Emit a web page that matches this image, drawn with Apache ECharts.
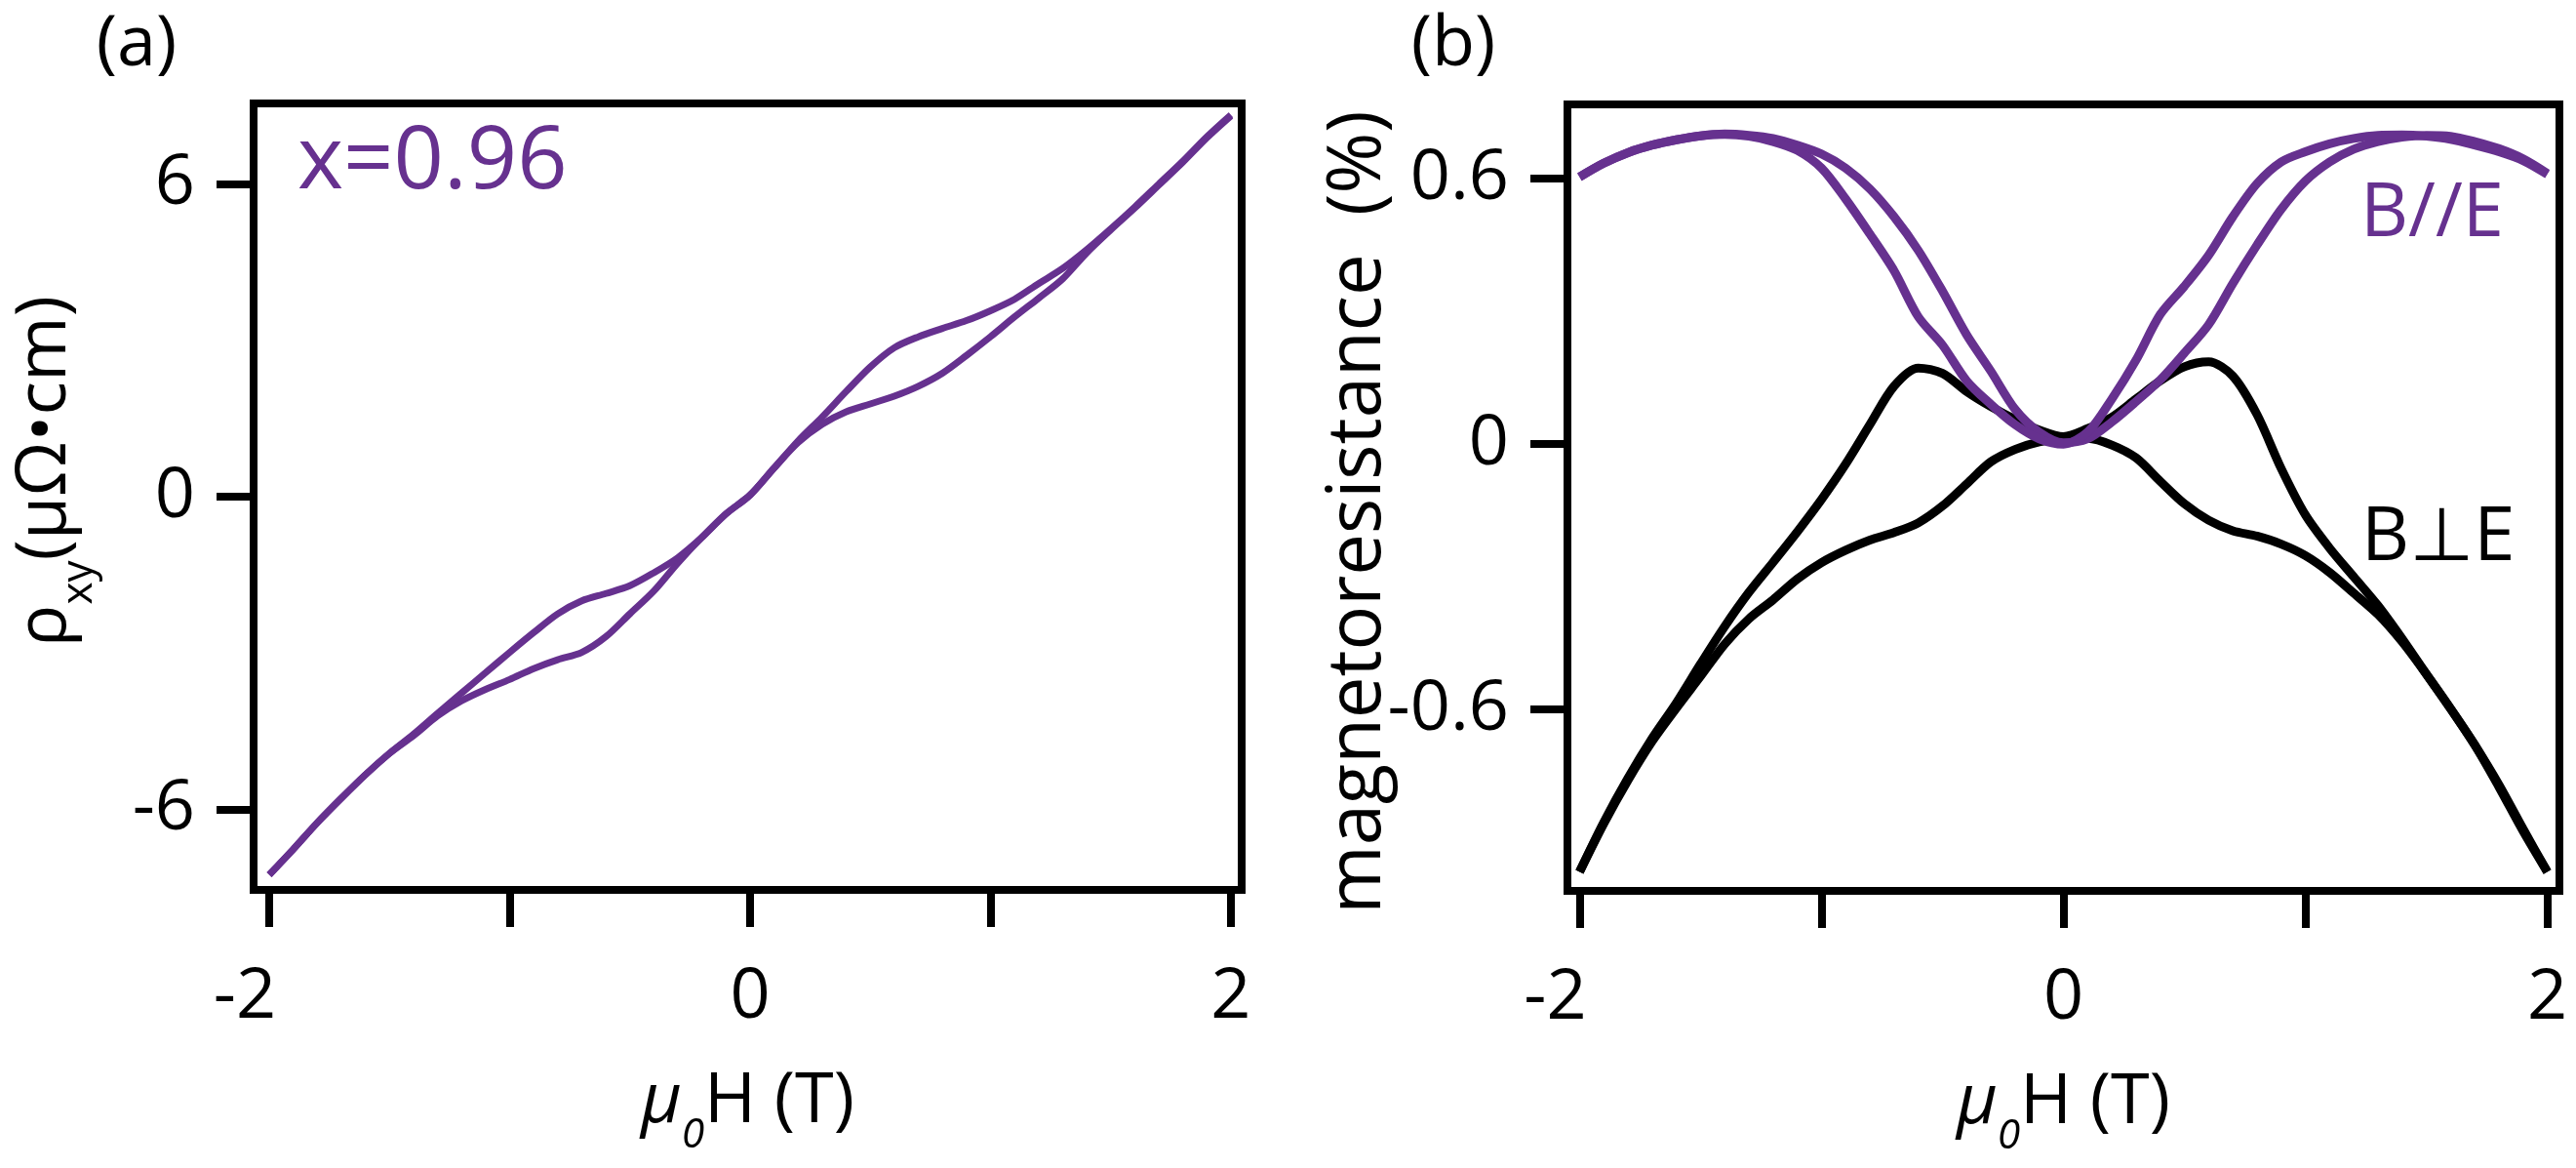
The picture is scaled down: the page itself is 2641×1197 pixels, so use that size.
<!DOCTYPE html>
<html>
<head>
<meta charset="utf-8">
<script src="https://cdn.jsdelivr.net/npm/echarts@6/dist/echarts.min.js"></script>
<style>html,body{margin:0;padding:0;background:#fff;}</style>
</head>
<body>
<div id="main" style="width:2641px;height:1197px;"></div>
<script type="text/javascript">
var fieldT = [-2.0, -1.9, -1.8, -1.7, -1.6, -1.5, -1.4, -1.3, -1.2, -1.1, -1.0,
              -0.9, -0.8, -0.7, -0.6, -0.5, -0.4, -0.3, -0.2, -0.1, 0.0,
               0.1, 0.2, 0.3, 0.4, 0.5, 0.6, 0.7, 0.8, 0.9, 1.0,
               1.1, 1.2, 1.3, 1.4, 1.5, 1.6, 1.7, 1.8, 1.9, 2.0];

// (a) rho_xy, two sweeps
var rhoSteep = [-7.26, -6.77, -6.26, -5.79, -5.34, -4.93, -4.59, -4.21, -3.92, -3.70, -3.51,
                -3.30, -3.13, -2.99, -2.69, -2.25, -1.81, -1.27, -0.78, -0.33, 0.03,
                 0.55, 1.07, 1.53, 2.02, 2.49, 2.86, 3.07, 3.23, 3.38, 3.57,
                 3.79, 4.09, 4.38, 4.74, 5.14, 5.56, 6.00, 6.44, 6.91, 7.33];
var rhoShallow = [-7.26, -6.77, -6.26, -5.79, -5.34, -4.93, -4.56, -4.16, -3.77, -3.38, -2.99,
                  -2.61, -2.25, -2.00, -1.86, -1.71, -1.46, -1.17, -0.78, -0.33, 0.03,
                   0.55, 1.04, 1.39, 1.63, 1.78, 1.93, 2.12, 2.37, 2.71, 3.07,
                   3.45, 3.81, 4.18, 4.68, 5.12, 5.54, 5.98, 6.42, 6.89, 7.31];

// (b) magnetoresistance (%), B//E two sweeps
var mrParUp = [0.604, 0.635, 0.659, 0.676, 0.688, 0.697, 0.701, 0.698, 0.691, 0.676, 0.656,
               0.624, 0.577, 0.514, 0.438, 0.346, 0.247, 0.165, 0.079, 0.027, 0.003,
               0.012, 0.050, 0.096, 0.145, 0.206, 0.270, 0.363, 0.450, 0.531, 0.595,
               0.638, 0.667, 0.684, 0.694, 0.698, 0.696, 0.684, 0.668, 0.645, 0.612];
var mrParDown = [0.604, 0.635, 0.659, 0.676, 0.688, 0.697, 0.700, 0.696, 0.684, 0.664, 0.624,
                 0.554, 0.475, 0.392, 0.288, 0.224, 0.143, 0.090, 0.044, 0.012, 0.000,
                 0.027, 0.102, 0.190, 0.293, 0.357, 0.427, 0.514, 0.589, 0.638, 0.661,
                 0.679, 0.691, 0.698, 0.699, 0.696, 0.689, 0.676, 0.661, 0.641, 0.610];
// B perp E, the curve with the two peaks and the one with the central hump
var mrPerpPeak = [-0.967, -0.855, -0.755, -0.665, -0.585, -0.497, -0.412, -0.335, -0.267, -0.198, -0.125,
                  -0.045, 0.044, 0.131, 0.172, 0.160, 0.119, 0.085, 0.056, 0.032, 0.017,
                   0.035, 0.061, 0.102, 0.143, 0.175, 0.186, 0.154, 0.067, -0.055, -0.160,
                  -0.235, -0.300, -0.365, -0.440, -0.520, -0.598, -0.680, -0.775, -0.875, -0.967];
var mrPerpHump = [-0.967, -0.858, -0.760, -0.672, -0.597, -0.525, -0.452, -0.395, -0.352, -0.305, -0.268,
                  -0.240, -0.217, -0.200, -0.178, -0.140, -0.090, -0.040, -0.012, 0.005, 0.012,
                   0.013, -0.002, -0.031, -0.084, -0.135, -0.172, -0.196, -0.208, -0.226, -0.252,
                  -0.290, -0.337, -0.385, -0.447, -0.520, -0.598, -0.680, -0.770, -0.870, -0.967];

var fieldTicks = [-2, -1, 0, 1, 2];
var fieldLabels = [-2, 0, 2];
var rhoTicks = [-6, 0, 6];
var mrTicks = [-0.6, 0, 0.6];

var FONT = '"Open Sans", "DejaVu Sans", sans-serif';
var purple = '#66318f';

function pairs(ys) {
    return fieldT.map(function (h, i) { return [h, ys[i]]; });
}

function fieldAxis(idx, min, max) {
    return {
        gridIndex: idx, type: 'value', min: min, max: max,
        axisLine: {show: false, onZero: false}, splitLine: {show: false},
        axisTick: {show: true, length: 38, customValues: fieldTicks, lineStyle: {color: '#000', width: 8}},
        axisLabel: {
            customValues: fieldLabels, margin: 74, fontSize: 72, fontFamily: FONT, color: '#000',
            formatter: function (v) { return v < 0 ? '{neg|' + v + '}' : '{pos|' + v + '}'; },
            rich: {
                neg: {fontSize: 72, fontFamily: FONT, color: '#000', padding: [0, 50, 0, 0]},
                pos: {fontSize: 72, fontFamily: FONT, color: '#000'}
            }
        },
        name: '{it|μ}{sub|0}{n|H (T)}', nameLocation: 'middle', nameGap: 161, nameMoveOverlap: false,
        nameTextStyle: {
            rich: {
                it: {fontSize: 72, fontStyle: 'italic', fontFamily: FONT, color: '#000'},
                sub: {fontSize: 42, fontStyle: 'italic', fontFamily: FONT, color: '#000', padding: [70, 0, 0, 0]},
                n: {fontSize: 72, fontFamily: FONT, color: '#000'}
            }
        }
    };
}

function valueAxis(idx, min, max, ticks, name, gap, pad, size, rich) {
    return {
        gridIndex: idx, type: 'value', min: min, max: max,
        axisLine: {show: false, onZero: false}, splitLine: {show: false},
        axisTick: {show: true, length: 38, customValues: ticks, lineStyle: {color: '#000', width: 8}},
        axisLabel: {
            customValues: ticks, margin: 60, fontSize: 72, fontFamily: FONT, color: '#000',
            padding: [28, 0, 0, 0],
            formatter: function (v) { return String(v); }
        },
        name: name, nameLocation: 'middle', nameGap: gap, nameMoveOverlap: false,
        nameTextStyle: {fontSize: size, fontFamily: FONT, color: '#000', padding: pad, rich: rich}
    };
}

var myChart = echarts.init(document.getElementById('main'));

var option = {
    animation: false,
    backgroundColor: '#fff',
    grid: [
        {left: 260, top: 106, width: 1013, height: 806, show: true, borderColor: '#000', borderWidth: 8, outerBoundsMode: 'none'},
        {left: 1607, top: 107, width: 1017, height: 806, show: true, borderColor: '#000', borderWidth: 8, outerBoundsMode: 'none'}
    ],
    xAxis: [fieldAxis(0, -2.065, 2.045), fieldAxis(1, -2.05, 2.05)],
    yAxis: [
        valueAxis(0, -7.55, 7.55, rhoTicks, '{n|ρ}{sub|xy}{n|(μΩ•cm)}', 157, [0, 0, 0, 52], 72, {
            n: {fontSize: 72, fontFamily: FONT, color: '#000'},
            sub: {fontSize: 44, fontFamily: FONT, color: '#000', padding: [70, 0, 0, 0]}
        }),
        valueAxis(1, -1.01, 0.768, mrTicks, 'magnetoresistance  (%)', 176, [0, 30, 0, 0], 76, null)
    ],
    series: [
        {type: 'line', xAxisIndex: 0, yAxisIndex: 0, data: pairs(rhoSteep), showSymbol: false, smooth: 0.3,
         lineStyle: {color: purple, width: 7}},
        {type: 'line', xAxisIndex: 0, yAxisIndex: 0, data: pairs(rhoShallow), showSymbol: false, smooth: 0.3,
         lineStyle: {color: purple, width: 7}},
        {type: 'line', xAxisIndex: 1, yAxisIndex: 1, data: pairs(mrPerpPeak), showSymbol: false, smooth: 0.3,
         lineStyle: {color: '#000', width: 9}},
        {type: 'line', xAxisIndex: 1, yAxisIndex: 1, data: pairs(mrPerpHump), showSymbol: false, smooth: 0.3,
         lineStyle: {color: '#000', width: 9}},
        {type: 'line', xAxisIndex: 1, yAxisIndex: 1, data: pairs(mrParUp), showSymbol: false, smooth: 0.3,
         lineStyle: {color: purple, width: 9}},
        {type: 'line', xAxisIndex: 1, yAxisIndex: 1, data: pairs(mrParDown), showSymbol: false, smooth: 0.3,
         lineStyle: {color: purple, width: 9}}
    ],
    graphic: [
        {type: 'text', x: 140, y: 46, style: {text: '(a)', fontSize: 72, fontFamily: FONT, fill: '#000', align: 'center', verticalAlign: 'middle'}},
        {type: 'text', x: 1490, y: 46, style: {text: '(b)', fontSize: 72, fontFamily: FONT, fill: '#000', align: 'center', verticalAlign: 'middle'}},
        {type: 'text', x: 305, y: 167, style: {text: 'x=0.96', fontSize: 90, fontFamily: FONT, fill: purple, align: 'left', verticalAlign: 'middle'}},
        {type: 'text', x: 2420, y: 220, style: {text: 'B//E', fontSize: 76, fontFamily: FONT, fill: purple, align: 'left', verticalAlign: 'middle'}},
        {type: 'text', x: 2421, y: 552, style: {text: 'B⊥E', fontSize: 76, fontFamily: FONT, fill: '#000', align: 'left', verticalAlign: 'middle'}}
    ]
};
myChart.setOption(option);
</script>
</body>
</html>
